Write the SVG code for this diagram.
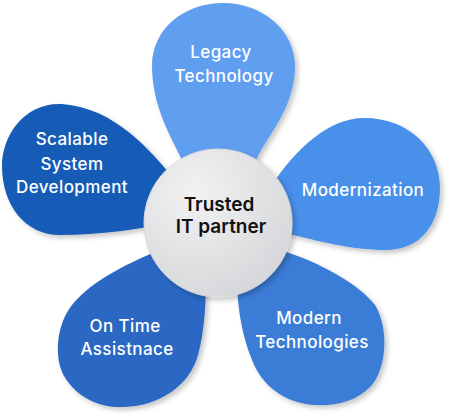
<svg xmlns="http://www.w3.org/2000/svg" width="450" height="419" viewBox="0 0 450 419">
<defs>
<filter id="sh" x="-20%" y="-20%" width="140%" height="140%">
<feDropShadow dx="3" dy="3" stdDeviation="2.5" flood-color="#000" flood-opacity="0.22"/>
</filter>
<radialGradient id="cg" cx="0.35" cy="0.3" r="0.8">
<stop offset="0" stop-color="#f2f2f3"/>
<stop offset="1" stop-color="#d4d5d8"/>
</radialGradient>
<style>
.lbl{font-family:Inter,"Noto Sans","DejaVu Sans",sans-serif;font-size:17px;font-weight:500;fill:#ffffff;text-anchor:middle;letter-spacing:0.4px}
.ctr{font-family:Inter,"Noto Sans","DejaVu Sans",sans-serif;font-size:19px;font-weight:600;fill:#111111;text-anchor:middle}
.petal{filter:url(#sh)}
</style>
</defs>
<rect width="450" height="419" fill="#ffffff"/>
<g id="legacy">
<path class="petal" fill="#619ef0" d="M180,156 C170,135 152,105 152,66 C152,28 185,3 223,3 C262,3 295,30 295,66 C295,105 272,130 258,156 L235,205 L200,205 Z"/>
<text class="lbl" x="221" y="58">Legacy</text>
<text class="lbl" x="224" y="82">Technology</text>
</g>
<g id="scalable">
<path class="petal" fill="#175cb6" d="M175,180 C150,150 115,108 62,104 C25,102 2,135 2,166 C2,205 25,235 60,235 C100,235 140,229 175,222 L200,205 Z"/>
<text class="lbl" x="72" y="145">Scalable</text>
<text class="lbl" x="72" y="170">System</text>
<text class="lbl" x="72" y="193">Development</text>
</g>
<g id="modernization">
<path class="petal" fill="#4a90ea" d="M272,185 C295,150 328,118 364,118 C410,118 440,150 440,188 C440,225 420,250 386,250 C350,250 320,241 280,232 L250,215 Z"/>
<text class="lbl" x="363" y="196">Modernization</text>
</g>
<g id="ontime">
<path class="petal" fill="#2a68c4" d="M165,248 C130,262 92,280 72,305 C56,325 54,358 64,376 C78,400 103,408 124,407 C160,406 190,385 198,355 C205,330 206,300 206,275 L190,250 Z"/>
<text class="lbl" x="125" y="332">On Time</text>
<text class="lbl" x="127" y="355">Assistnace</text>
</g>
<g id="moderntech">
<path class="petal" fill="#3a7bd7" d="M280,250 C320,262 360,285 375,305 C390,330 386,370 371,386 C356,402 335,406 314,405 C285,403 262,386 252,360 C242,335 238,310 237,285 L250,260 Z"/>
<text class="lbl" x="309" y="324">Modern</text>
<text class="lbl" x="312" y="348">Technologies</text>
</g>
<g id="center">
<circle cx="218" cy="223" r="74" fill="url(#cg)" stroke="#d8d9db" stroke-width="1" filter="url(#sh)"/>
<text class="ctr" x="219" y="211">Trusted</text>
<text class="ctr" x="221" y="233">IT partner</text>
</g>
</svg>
